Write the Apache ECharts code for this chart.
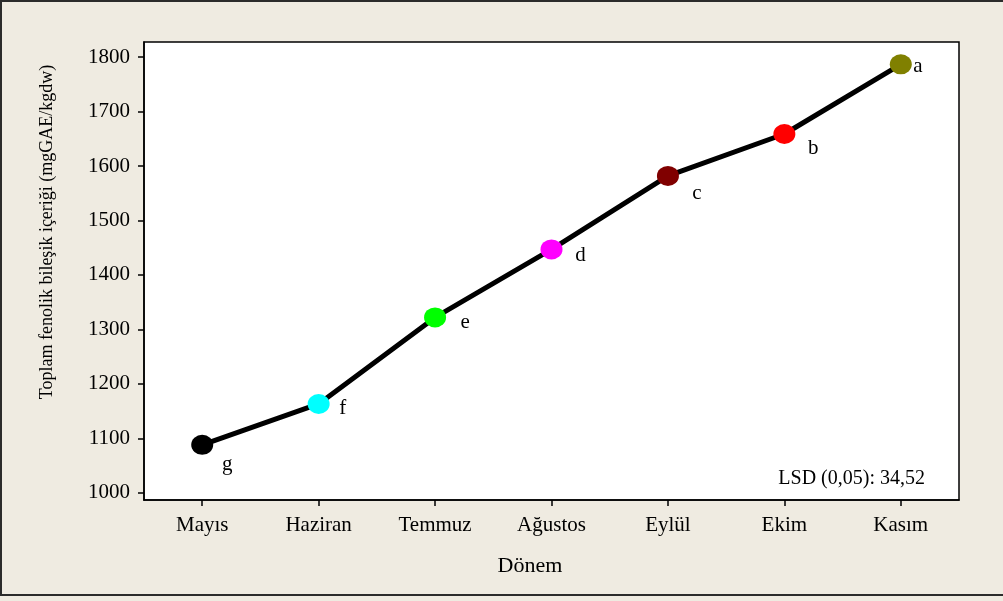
<!DOCTYPE html>
<html>
<head>
<meta charset="utf-8">
<script src="https://cdn.jsdelivr.net/npm/echarts@6/dist/echarts.min.js"></script>
<style>
html,body{margin:0;padding:0;background:#efebe1;}
#chart{width:1003px;height:601px;}
</style>
</head>
<body>
<div id="chart"></div>
<script>
const categories = ['Mayıs','Haziran','Temmuz','Ağustos','Eylül','Ekim','Kasım'];
const values = [1088, 1163, 1322, 1447, 1582, 1659, 1787];
const letters = ['g','f','e','d','c','b','a'];
const pointColors = ['#000000','#00ffff','#00ff00','#ff00ff','#800000','#ff0000','#808000'];
const yTicks = [1000, 1100, 1200, 1300, 1400, 1500, 1600, 1700, 1800];
const yTitle = 'Toplam fenolik bileşik içeriği (mgGAE/kgdw)';
const xTitle = 'Dönem';
const note = 'LSD (0,05): 34,52';

const letterOffsets = [[25,20],[24,5],[30,5],[29,6],[29,18],[29,14],[17,2]];
const FONT = "'Liberation Serif','Times New Roman',serif";

const chart = echarts.init(document.getElementById('chart'), null, {renderer:'canvas'});
chart.setOption({
  backgroundColor: '#efebe1',
  animation: false,
  grid: {left:144, top:42, right:44, bottom:101, show:true, backgroundColor:'#ffffff', borderColor:'#000000', borderWidth:1.5},
  xAxis: {
    type:'category', data:categories, boundaryGap:true,
    axisLine:{show:true, lineStyle:{color:'#000', width:1.5}},
    axisTick:{show:true, alignWithLabel:true, length:6, inside:false, lineStyle:{color:'#000', width:1.5}},
    axisLabel:{color:'#000', fontFamily:FONT, fontSize:21, margin:15},
    splitLine:{show:false}
  },
  yAxis: {
    type:'value', min:986.6, max:1828,
    axisLine:{show:true, lineStyle:{color:'#000', width:1.5}},
    axisTick:{show:true, length:6, customValues:yTicks, lineStyle:{color:'#000', width:1.5}},
    axisLabel:{color:'#000', fontFamily:FONT, fontSize:21, margin:14, customValues:yTicks, formatter:(v)=>String(v)},
    splitLine:{show:false}
  },
  graphic: [
    {type:'rect', shape:{x:1, y:1, width:1030, height:594}, style:{fill:'none', stroke:'#2b2b2b', lineWidth:2}, silent:true, z:-1},
    {type:'text', x:47, y:232, rotation:Math.PI/2, style:{text:yTitle, font:"18px "+FONT, fill:'#000', textAlign:'center', textVerticalAlign:'middle'}},
    {type:'text', x:530, y:566, style:{text:xTitle, font:"22px "+FONT, fill:'#000', textAlign:'center', textVerticalAlign:'middle'}},
    {type:'text', x:925, y:479, style:{text:note, font:"20px "+FONT, fill:'#000', textAlign:'right', textVerticalAlign:'middle'}}
  ],
  series: [{
    type:'line',
    data: values.map((v,i)=>({
      value:v,
      itemStyle:{color:pointColors[i], borderWidth:0},
      label:{show:true, formatter:letters[i], position:'inside', offset:letterOffsets[i], color:'#000', fontFamily:FONT, fontSize:21}
    })),
    symbol:'circle', symbolSize:[22,20],
    lineStyle:{color:'#000', width:5},
    emphasis:{disabled:true}
  }]
});
</script>
</body>
</html>
